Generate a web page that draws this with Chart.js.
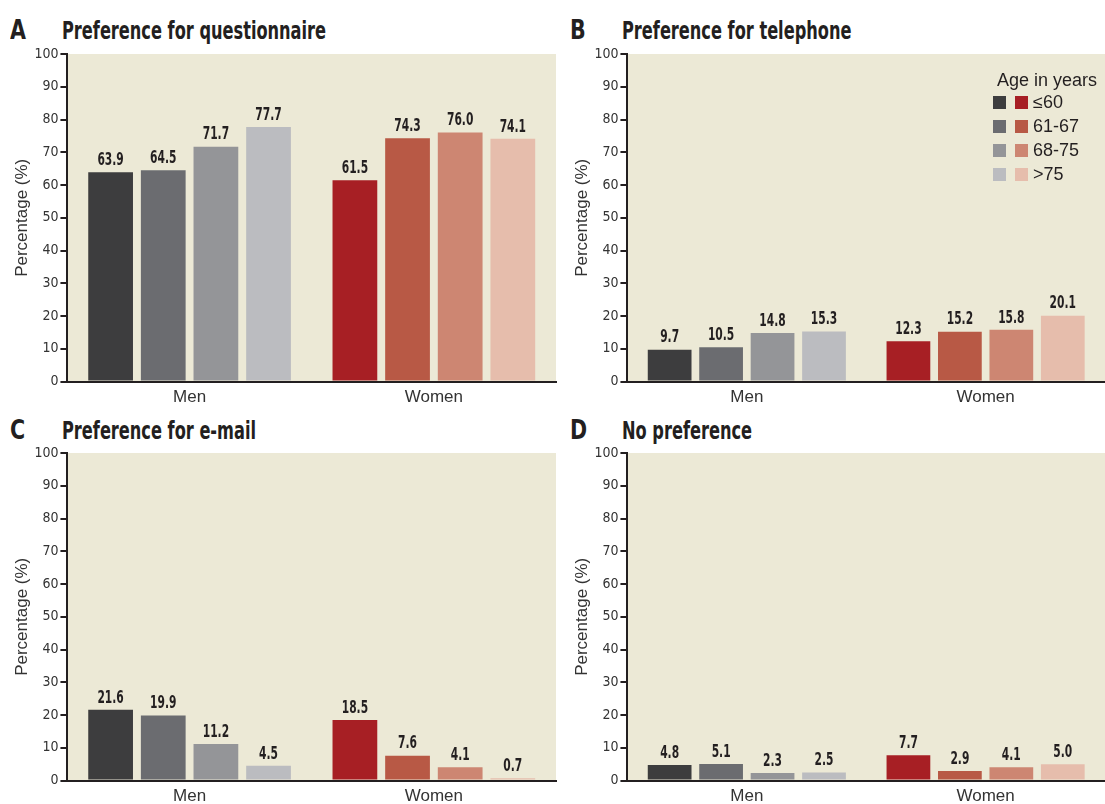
<!DOCTYPE html>
<html>
<head>
<meta charset="utf-8">
<script src="https://cdn.jsdelivr.net/npm/chart.js@4.4.1/dist/chart.umd.min.js"></script>
<style>
  body { margin: 0; background: #ffffff; width: 1105px; height: 804px; position: relative; overflow: hidden; }
  .panel { position: absolute; }
  .letter { position: absolute; font-family: "DejaVu Sans Condensed", sans-serif; font-weight: bold; font-size: 27px; color: #231f20; transform: scaleX(0.85); transform-origin: left top; }
  .title { position: absolute; font-family: "DejaVu Sans Condensed", sans-serif; font-weight: bold; font-size: 24px; color: #231f20; white-space: nowrap; transform: scaleX(0.75); transform-origin: left top; }
  #legend { position: absolute; left: 993px; top: 70px; font-family: "Liberation Sans", sans-serif; font-size: 18px; color: #231f20; }
  #legend .head { margin-left: 4px; height: 20px; line-height: 20px; }
  #legend .row { height: 24px; display: flex; align-items: center; }
  #legend .sw { width: 13px; height: 13px; display: inline-block; margin-right: 9px; }
  #legend .sw2 { margin-right: 5px; }
</style>
</head>
<body>

<div class="letter" style="left:10px; top:14px;">A</div>
<div class="title" style="left:62px; top:17px;">Preference for questionnaire</div>
<div class="letter" style="left:570px; top:14px;">B</div>
<div class="title" style="left:622px; top:17px;">Preference for telephone</div>
<div class="letter" style="left:10px; top:414px;">C</div>
<div class="title" style="left:62px; top:417px;">Preference for e-mail</div>
<div class="letter" style="left:570px; top:414px;">D</div>
<div class="title" style="left:622px; top:417px;">No preference</div>

<div class="panel" style="left:0px; top:40px; width:560px; height:374px;"><canvas id="chartA"></canvas></div>
<div class="panel" style="left:560px; top:40px; width:545px; height:374px;"><canvas id="chartB"></canvas></div>
<div class="panel" style="left:0px; top:439px; width:560px; height:374px;"><canvas id="chartC"></canvas></div>
<div class="panel" style="left:560px; top:439px; width:545px; height:374px;"><canvas id="chartD"></canvas></div>

<div id="legend"></div>

<script>
/* categories and age groups */
var groups = ['Men', 'Women'];
var ageGroups = ['\u226460', '61-67', '68-75', '>75'];

/* colours: first for men, second for women */
var menColors = ['#3d3d3e', '#6b6c70', '#949598', '#bbbcc0'];
var womenColors = ['#a71f24', '#b85945', '#cd8672', '#e6bdac'];

/* values per panel, each row is [men, women] for one age group */
var questionnaire = [[63.9, 61.5], [64.5, 74.3], [71.7, 76.0], [77.7, 74.1]];
var telephone = [[9.7, 12.3], [10.5, 15.2], [14.8, 15.8], [15.3, 20.1]];
var email = [[21.6, 18.5], [19.9, 7.6], [11.2, 4.1], [4.5, 0.7]];
var noPreference = [[4.8, 7.7], [5.1, 2.9], [2.3, 4.1], [2.5, 5.0]];

var yTicks = [0, 10, 20, 30, 40, 50, 60, 70, 80, 90, 100];

var narrow = '"DejaVu Sans Condensed", sans-serif';
var plain = '"Liberation Sans", sans-serif';
var ink = '#231f20';

/* fill the plot area with the beige colour */
var plotBackground = {
  id: 'plotBackground',
  beforeDraw: function(chart) {
    var a = chart.chartArea;
    var ctx = chart.ctx;
    ctx.save();
    ctx.fillStyle = '#ece9d6';
    ctx.fillRect(a.left, a.top, a.right - a.left, a.bottom - a.top);
    ctx.restore();
  }
};

/* value labels on top of each bar, squeezed to look condensed */
var valueLabels = {
  id: 'valueLabels',
  afterDatasetsDraw: function(chart) {
    var ctx = chart.ctx;
    chart.data.datasets.forEach(function(ds, i) {
      chart.getDatasetMeta(i).data.forEach(function(bar, j) {
        ctx.save();
        ctx.font = 'bold 18px ' + narrow;
        ctx.fillStyle = ink;
        ctx.textAlign = 'center';
        ctx.textBaseline = 'bottom';
        ctx.translate(bar.x, bar.y - 3);
        ctx.scale(0.66, 1);
        ctx.fillText(ds.data[j].toFixed(1), 0, 0);
        ctx.restore();
      });
    });
  }
};

function makeChart(id, values, padRight) {
  var datasets = values.map(function(row, i) {
    return {
      label: ageGroups[i],
      data: row,
      backgroundColor: [menColors[i], womenColors[i]],
      borderWidth: 0
    };
  });
  return new Chart(document.getElementById(id), {
    type: 'bar',
    data: { labels: groups, datasets: datasets },
    options: {
      responsive: true,
      maintainAspectRatio: false,
      animation: false,
      events: [],
      layout: { padding: { top: 14, right: padRight, left: 0, bottom: 0 } },
      datasets: { bar: { categoryPercentage: 0.862, barPercentage: 0.85 } },
      plugins: {
        legend: { display: false },
        tooltip: { enabled: false }
      },
      scales: {
        x: {
          grid: { display: false, drawTicks: false },
          border: { display: true, color: '#231f20', width: 2 },
          ticks: { color: '#333', font: { family: plain, size: 17 }, padding: 6 }
        },
        y: {
          min: 0,
          max: 100,
          afterBuildTicks: function(axis) {
            axis.ticks = yTicks.map(function(v) { return { value: v }; });
          },
          grid: { drawOnChartArea: false, drawTicks: true, tickLength: 7, color: '#231f20', lineWidth: 2 },
          border: { display: true, color: '#231f20', width: 2 },
          ticks: { color: '#333', font: { family: narrow, size: 14 }, padding: 2 },
          title: { display: true, text: 'Percentage (%)', color: '#333', font: { family: plain, size: 17 }, padding: { top: 12, bottom: 0 } }
        }
      }
    },
    plugins: [plotBackground, valueLabels]
  });
}

makeChart('chartA', questionnaire, 4);
makeChart('chartB', telephone, 0);
makeChart('chartC', email, 4);
makeChart('chartD', noPreference, 0);

/* legend with men and women swatches side by side */
var legendHtml = '<div class="head">Age in years</div>';
ageGroups.forEach(function(name, i) {
  legendHtml += '<div class="row"><span class="sw" style="background:' + menColors[i] + '"></span>' +
    '<span class="sw sw2" style="background:' + womenColors[i] + '"></span>' + name + '</div>';
});
document.getElementById('legend').innerHTML = legendHtml;
</script>
</body>
</html>
